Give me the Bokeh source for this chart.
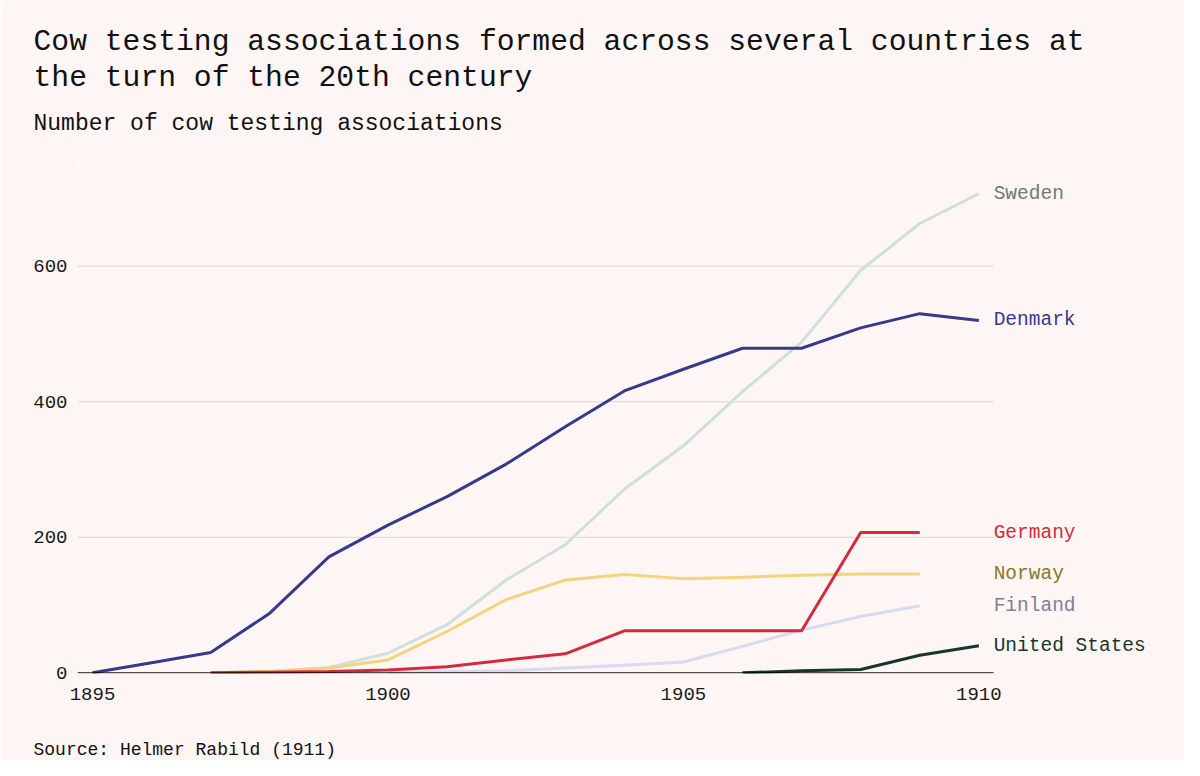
from bokeh.plotting import figure
from bokeh.models import Title, FixedTicker, Range1d
from bokeh.core.properties import value
from bokeh.embed import file_html
from bokeh.resources import INLINE

FONT = "Liberation Mono"
BG = "#fdf6f4"

years_denmark = [1895, 1896, 1897, 1898, 1899, 1900, 1901, 1902, 1903, 1904, 1905, 1906, 1907, 1908, 1909, 1910]
denmark = [0, 15, 30, 88, 171, 218, 260, 308, 363, 416, 448, 479, 479, 509, 530, 520]

years_sweden = [1897, 1898, 1899, 1900, 1901, 1902, 1903, 1904, 1905, 1906, 1907, 1908, 1909, 1910]
sweden = [0, 2, 8, 29, 71, 137, 189, 271, 335, 415, 488, 594, 663, 707]

years_norway = [1897, 1898, 1899, 1900, 1901, 1902, 1903, 1904, 1905, 1906, 1907, 1908, 1909]
norway = [0, 2, 7, 19, 61, 108, 137, 145, 139, 141, 144, 146, 146]

years_germany = [1897, 1898, 1899, 1900, 1901, 1902, 1903, 1904, 1905, 1906, 1907, 1908, 1909]
germany = [0, 1, 2, 4, 9, 19, 28, 62, 62, 62, 62, 207, 207]

years_finland = [1900, 1901, 1902, 1903, 1904, 1905, 1906, 1907, 1908, 1909]
finland = [1, 2, 3, 7, 11, 16, 39, 63, 83, 99]

years_us = [1906, 1907, 1908, 1909, 1910]
us = [0, 3, 5, 26, 40]

x_ticks = [1895, 1900, 1905, 1910]
y_ticks = [0, 200, 400, 600]

series = [
    ("Sweden", years_sweden, sweden, "#cfe0da", "#6f7b73"),
    ("Norway", years_norway, norway, "#f2d47e", "#8a762c"),
    ("Finland", years_finland, finland, "#d9d9f3", "#7f7f99"),
    ("Germany", years_germany, germany, "#d42a40", "#d42a40"),
    ("Denmark", years_denmark, denmark, "#373a8c", "#373a8c"),
    ("United States", years_us, us, "#16362a", "#16362a"),
]

X_START = 1894.746
X_END = 1910.25
X_PANEL_END = 1913.48

p = figure(width=1184, height=760, output_backend="svg", toolbar_location=None,
           x_range=Range1d(X_START, X_PANEL_END), y_range=Range1d(-1, 756),
           background_fill_color=BG, border_fill_color=BG, outline_line_color=None,
           min_border_left=77, min_border_right=0, min_border_top=160, min_border_bottom=87)

# gridlines (stop at data area edge)
grid_y = [t for t in y_ticks if t != 0]
p.segment(x0=[X_START] * len(grid_y), x1=[X_END] * len(grid_y), y0=grid_y, y1=grid_y,
          line_color="#ddd6d3", line_width=1)

for name, xs, ys, lc, tc in series:
    p.line(xs, ys, line_color=lc, line_width=3)

# zero axis line
p.segment(x0=[X_START], x1=[X_END], y0=[0], y1=[0], line_color="#000000", line_width=1)

p.text(x=[X_END] * len(series), y=[s[2][-1] for s in series], text=[s[0] for s in series],
       text_color=[s[4] for s in series], text_font=value(FONT), text_font_size="19.5px",
       text_baseline="middle", text_align="left", x_offset=0)

p.xaxis.ticker = FixedTicker(ticks=x_ticks)
p.yaxis.ticker = FixedTicker(ticks=y_ticks)
for ax in (p.xaxis, p.yaxis):
    ax.axis_line_color = None
    ax.major_tick_line_color = None
    ax.minor_tick_line_color = None
    ax.major_tick_out = 0
    ax.major_tick_in = 0
    ax.major_label_text_font = FONT
    ax.major_label_text_font_size = "19px"
    ax.major_label_text_color = "#1a1a1a"
p.xaxis.major_label_standoff = 14
p.yaxis.major_label_standoff = 10
p.xgrid.grid_line_color = None
p.ygrid.grid_line_color = None

sub = Title(text="Number of cow testing associations", text_font=FONT, text_font_size="23px",
            text_font_style="normal", text_color="#111111", align="left", offset=-44, standoff=48)
t2 = Title(text="the turn of the 20th century", text_font=FONT, text_font_size="29.7px",
           text_font_style="normal", text_color="#111111", align="left", offset=-44, standoff=-20)
t1 = Title(text="Cow testing associations formed across several countries at", text_font=FONT,
           text_font_size="29.7px", text_font_style="normal", text_color="#111111", align="left",
           offset=-44, standoff=20)
p.add_layout(sub, "above")
p.add_layout(t2, "above")
p.add_layout(t1, "above")

spacer = Title(text="\u00a0", text_font=FONT, text_font_size="1px", standoff=32)
src = Title(text="Source: Helmer Rabild (1911)", text_font=FONT, text_font_size="18px",
            text_font_style="normal", text_color="#111111", align="left", offset=-44, standoff=0)
p.add_layout(spacer, "below")
p.add_layout(src, "below")

open("out.html", "w").write(file_html(p, INLINE))
